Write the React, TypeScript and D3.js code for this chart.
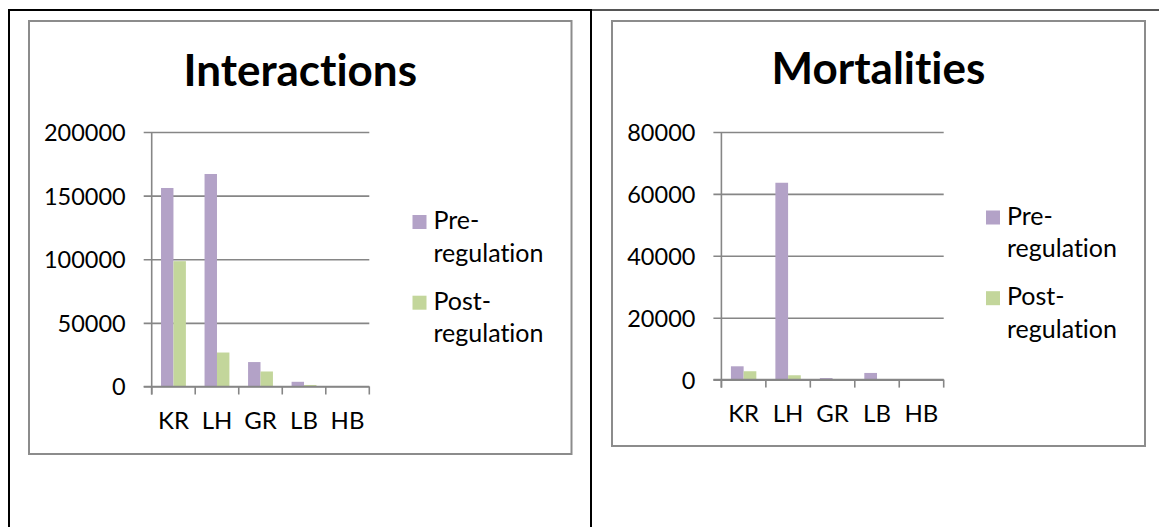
import { useRef, useEffect } from "react";
import * as d3 from "d3";

const categories = ["KR", "LH", "GR", "LB", "HB"];
const seriesNames = ["Pre-regulation", "Post-regulation"];
const seriesColors = ["#B3A2C7", "#C3D69B"];

const interactionsPre = [156000, 167000, 19200, 3700, 150];
const interactionsPost = [98500, 26700, 11800, 1200, 50];
const interactionsTicks = [0, 50000, 100000, 150000, 200000];

const mortalitiesPre = [4300, 63600, 500, 2150, 30];
const mortalitiesPost = [2700, 1400, 200, 80, 10];
const mortalitiesTicks = [0, 20000, 40000, 60000, 80000];

interface ChartProps {
  title: string;
  pre: number[];
  post: number[];
  ticks: number[];
  box: { x: number; y: number; w: number; h: number };
  plot: { x0: number; x1: number; top: number; bottom: number };
  titleY: number;
  legend: { x: number; y: number };
}

const FONT = "Lato, 'Open Sans', sans-serif";
const GREY = "#868686";
const NO_LIG = "font-variant-ligatures: none; font-feature-settings: 'liga' 0, 'clig' 0;";

const drawChart = (
  root: d3.Selection<SVGGElement, unknown, null, undefined>,
  p: ChartProps
) => {
  const { box, plot } = p;
  const g = root.append("g");

  // marco del gráfico
  g.append("rect")
    .attr("x", box.x)
    .attr("y", box.y)
    .attr("width", box.w)
    .attr("height", box.h)
    .attr("fill", "#fff")
    .attr("stroke", "#8c8c8c")
    .attr("stroke-width", 2);

  g.append("text")
    .attr("x", box.x + box.w / 2)
    .attr("y", p.titleY)
    .attr("text-anchor", "middle")
    .attr("font-family", FONT)
    .attr("font-weight", "bold")
    .attr("font-size", 44)
    .attr("style", NO_LIG)
    .text(p.title);

  const x = d3
    .scaleBand()
    .domain(categories)
    .range([plot.x0, plot.x1])
    .paddingInner(0)
    .paddingOuter(0);

  const y = d3
    .scaleLinear()
    .domain([p.ticks[0], p.ticks[p.ticks.length - 1]])
    .range([plot.bottom, plot.top]);

  // eje Y con cuadrícula
  const yAxis = g
    .append("g")
    .attr("transform", `translate(${plot.x0 - 8},0)`)
    .call(
      d3
        .axisLeft(y)
        .tickValues(p.ticks)
        .tickSizeInner(-(plot.x1 - plot.x0 + 8))
        .tickSizeOuter(0)
        .tickPadding(18)
        .tickFormat(d3.format("d"))
    );
  yAxis.select(".domain").remove();
  yAxis.selectAll("line").attr("stroke", GREY).attr("stroke-width", 1.6);
  yAxis
    .selectAll("text")
    .attr("font-family", FONT)
    .attr("font-size", 23.5)
    .attr("fill", "#000")
    .attr("dy", "0.36em");

  // barras
  const step = x.step();
  const barW = step / 3.5;
  const series = [p.pre, p.post];
  series.forEach((vals, si) => {
    g.append("g")
      .selectAll("rect")
      .data(vals)
      .join("rect")
      .attr("x", (_, i) => (x(categories[i]) ?? 0) + barW * 0.75 + si * barW)
      .attr("y", (d) => y(d))
      .attr("width", barW)
      .attr("height", (d) => y(0) - y(d))
      .attr("fill", seriesColors[si]);
  });

  // línea base y eje vertical
  g.append("line")
    .attr("x1", plot.x0)
    .attr("x2", plot.x0)
    .attr("y1", plot.top)
    .attr("y2", plot.bottom + 8)
    .attr("stroke", GREY)
    .attr("stroke-width", 1.6);
  g.append("line")
    .attr("x1", plot.x0 - 8)
    .attr("x2", plot.x1)
    .attr("y1", plot.bottom)
    .attr("y2", plot.bottom)
    .attr("stroke", GREY)
    .attr("stroke-width", 1.6);

  // marcas entre categorías
  g.append("g")
    .selectAll("line")
    .data(d3.range(categories.length + 1))
    .join("line")
    .attr("x1", (i) => plot.x0 + i * step)
    .attr("x2", (i) => plot.x0 + i * step)
    .attr("y1", plot.bottom)
    .attr("y2", plot.bottom + 8)
    .attr("stroke", GREY)
    .attr("stroke-width", 1.6);

  g.append("g")
    .selectAll("text")
    .data(categories)
    .join("text")
    .attr("x", (d) => (x(d) ?? 0) + step / 2)
    .attr("y", plot.bottom + 42)
    .attr("text-anchor", "middle")
    .attr("font-family", FONT)
    .attr("font-size", 24)
    .text((d) => d);

  // leyenda
  seriesNames.forEach((name, i) => {
    const row = g
      .append("g")
      .attr("transform", `translate(${p.legend.x},${p.legend.y + i * 80.7})`);
    row
      .append("rect")
      .attr("x", 0)
      .attr("y", -14)
      .attr("width", 14)
      .attr("height", 14)
      .attr("fill", seriesColors[i]);
    const [first, second] = name.split("-");
    const t = row
      .append("text")
      .attr("font-family", FONT)
      .attr("font-size", 25)
      .attr("style", NO_LIG)
      .attr("x", 21);
    t.append("tspan").attr("x", 21).attr("y", 0).text(first + "-");
    t.append("tspan").attr("x", 21).attr("y", 32.7).text(second);
  });
};

export default function App() {
  const svgRef = useRef<SVGSVGElement>(null);

  useEffect(() => {
    const svg = d3.select(svgRef.current);
    svg.selectAll("*").remove();
    const root = svg.append("g");

    // bordes de la tabla
    root.append("line")
      .attr("x1", 9).attr("x2", 591).attr("y1", 10).attr("y2", 10)
      .attr("stroke", "#000").attr("stroke-width", 2);
    root.append("line")
      .attr("x1", 591).attr("x2", 1159).attr("y1", 10).attr("y2", 10)
      .attr("stroke", "#555").attr("stroke-width", 2);
    root.append("line")
      .attr("x1", 9).attr("x2", 9).attr("y1", 9).attr("y2", 527)
      .attr("stroke", "#000").attr("stroke-width", 2);
    root.append("line")
      .attr("x1", 591).attr("x2", 591).attr("y1", 9).attr("y2", 527)
      .attr("stroke", "#000").attr("stroke-width", 2);

    drawChart(root, {
      title: "Interactions",
      pre: interactionsPre,
      post: interactionsPost,
      ticks: interactionsTicks,
      box: { x: 29, y: 21, w: 542.5, h: 433 },
      plot: { x0: 151.7, x1: 369.3, top: 132, bottom: 386.5 },
      titleY: 85.7,
      legend: { x: 412.5, y: 229 },
    });

    drawChart(root, {
      title: "Mortalities",
      pre: mortalitiesPre,
      post: mortalitiesPost,
      ticks: mortalitiesTicks,
      box: { x: 612, y: 21, w: 533, h: 425 },
      plot: { x0: 721.4, x1: 943.7, top: 132, bottom: 379.6 },
      titleY: 84,
      legend: { x: 986, y: 224.5 },
    });
  }, []);

  return (
    <svg
      ref={svgRef}
      width={1159}
      height={527}
      style={{ position: "absolute", left: 0, top: 0, background: "#fff" }}
    />
  );
}
